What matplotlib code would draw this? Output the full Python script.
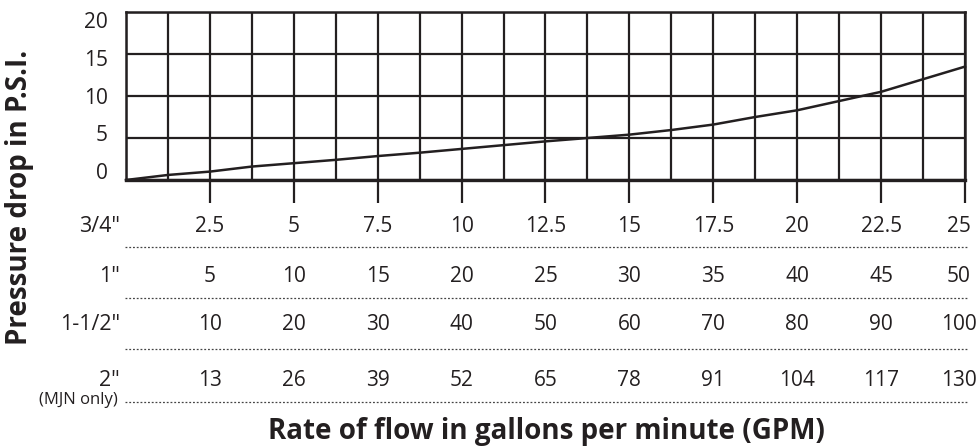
import numpy as np
import matplotlib.pyplot as plt
from matplotlib.ticker import MultipleLocator
from matplotlib.transforms import blended_transform_factory, ScaledTranslation
from matplotlib.lines import Line2D

plt.rcParams['font.family'] = ['Open Sans', 'DejaVu Sans']

#Pressure drop curve (3/4" scale, GPM vs PSI)
gpm = [0, 1.25, 2.5, 3.75, 5, 6.25, 7.5, 8.75, 10, 11.25, 12.5, 13.75,
       15, 16.25, 17.5, 18.75, 20, 21.25, 22.5, 23.75, 25]
psi = [0, 0.6, 1.0, 1.6, 2.0, 2.4, 2.85, 3.25, 3.7, 4.15, 4.6, 5.0,
       5.4, 5.95, 6.6, 7.5, 8.3, 9.4, 10.5, 12.0, 13.5]

#Flow rate table below the chart, one row per pipe size
row_labels = ['3/4"', '1"', '1-1/2"', '2"']
row_34 = ['2.5', '5', '7.5', '10', '12.5', '15', '17.5', '20', '22.5', '25']
row_1 = ['5', '10', '15', '20', '25', '30', '35', '40', '45', '50']
row_112 = ['10', '20', '30', '40', '50', '60', '70', '80', '90', '100']
row_2 = ['13', '26', '39', '52', '65', '78', '91', '104', '117', '130']
col_pos = [2.5, 5, 7.5, 10, 12.5, 15, 17.5, 20, 22.5, 25]
psi_ticks = [0, 5, 10, 15, 20]

ink = '#231f20'
W, H = 979, 446

fig = plt.figure(figsize=(W/100, H/100), dpi=100)
ax = fig.add_axes([126/W, 1-180/H, (965-126)/W, 168/H])

ax.plot(gpm, psi, color=ink, lw=1.8, zorder=5, clip_on=False)

ax.set_xlim(0, 25)
ax.set_ylim(0, 20)
ax.set_xticks(col_pos)
ax.xaxis.set_minor_locator(MultipleLocator(1.25))
ax.set_yticks(psi_ticks)
ax.grid(which='both', color=ink, lw=1.6)
ax.tick_params(axis='x', which='major', length=16.5, width=1.6, color=ink,
               direction='out', labelbottom=False)
ax.tick_params(axis='x', which='minor', length=0)
ax.tick_params(axis='y', length=0, pad=13, labelsize=15, labelcolor=ink)
for s in ax.spines.values():
    s.set_color(ink)
    s.set_linewidth(1.8)
ax.spines['bottom'].set_linewidth(2.4)

#the psi labels sit a bit inside the grid in the original (0 raised, 20 lowered)
for v, t in zip(psi_ticks, ax.yaxis.get_major_ticks()):
    dy = (9 - 17 * v / 20) / 100
    t.label1.set_transform(t.label1.get_transform() + ScaledTranslation(0, dy, fig.dpi_scale_trans))

#Table rows
trans = blended_transform_factory(ax.transData, fig.transFigure)
rows = [row_34, row_1, row_112, row_2]
text_y = [227, 277, 325, 380]
line_y = [247, 298, 349, 402]
shift_last = ScaledTranslation(-0.06, 0, fig.dpi_scale_trans)
for lab, vals, ty, ly in zip(row_labels, rows, text_y, line_y):
    fig.text(120/W, 1-ty/H, lab, ha='right', va='center', fontsize=15.5, color=ink)
    for i, (x, v) in enumerate(zip(col_pos, vals)):
        tr = trans + shift_last if i == len(vals) - 1 else trans
        ax.text(x, 1-ty/H, v, transform=tr, ha='center', va='center',
                fontsize=15, color=ink)
    fig.add_artist(Line2D([125/W, 968/W], [1-ly/H, 1-ly/H], color='#444444',
                          lw=0.9, linestyle=(0, (1.5, 1.5))))
fig.text(118/W, 1-400/H, '(MJN only)', ha='right', va='center', fontsize=12, color=ink)

fig.text(20/W, 1-197/H, 'Pressure drop in P.S.I.', rotation=90, ha='center', va='center',
         fontsize=20, fontweight='bold', color=ink)
fig.text(546/W, 1-431/H, 'Rate of flow in gallons per minute (GPM)', ha='center', va='center',
         fontsize=20, fontweight='bold', color=ink)

fig.savefig('out.png', dpi=100)
